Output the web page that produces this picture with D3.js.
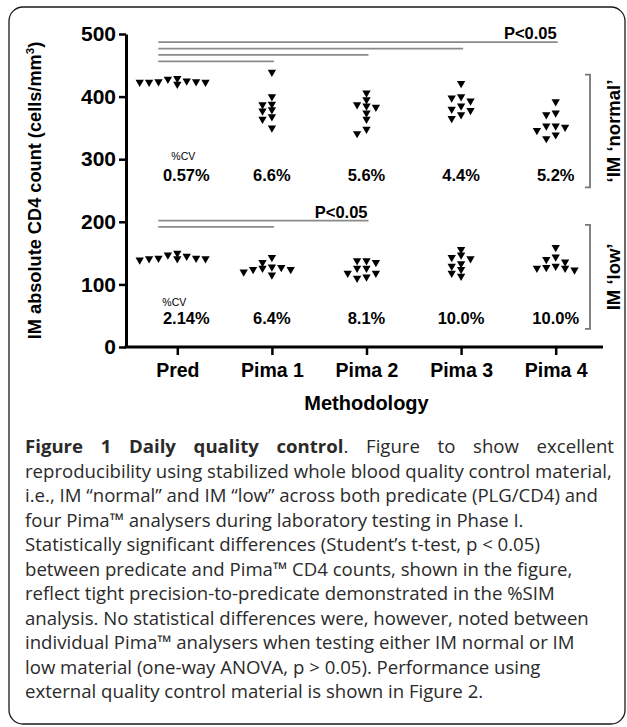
<!DOCTYPE html>
<html><head><meta charset="utf-8">
<script src="https://cdn.jsdelivr.net/npm/d3@7"></script>
<style>body{margin:0;background:#fff}svg{display:block}</style>
</head><body>
<script>
// ---------- data ----------
const categories = ["Pred", "Pima 1", "Pima 2", "Pima 3", "Pima 4"];
const normalPred  = [424, 423, 424, 428, 420, 429, 423, 423, 425];
const normalPima1 = [439, 400, 387, 388, 379, 377, 368, 364, 350];
const normalPima2 = [406, 387, 383, 385, 395, 374, 364, 348, 341];
const normalPima3 = [421, 398, 393, 400, 385, 380, 371, 365, 378];
const normalPima4 = [392, 374, 371, 353, 351, 353, 346, 339, 333];
const lowPred  = [145, 141, 142, 150, 139, 147, 141, 141, 142];
const lowPima1 = [128, 126, 124, 143, 135, 115, 120, 124, 127];
const lowPima2 = [126, 118, 110, 138, 135, 138, 112, 118, 126];
const lowPima3 = [156, 147, 143, 141, 133, 129, 124, 118, 113];
const lowPima4 = [159, 140, 136, 144, 129, 126, 123, 126, 127];
const cvNormal = ["0.57%", "6.6%", "5.6%", "4.4%", "5.2%"];
const cvLow    = ["2.14%", "6.4%", "8.1%", "10.0%", "10.0%"];
const yTicks = [0, 100, 200, 300, 400, 500];
const normalSigTargets = ["Pima 4", "Pima 3", "Pima 2", "Pima 1"];
const lowSigTargets = ["Pima 2", "Pima 1"];
const pLabel = "P<0.05";
const groupLabels = ["\u2018IM \u2018normal\u2019", "IM \u2018low\u2019"];
const groupRanges = [[255, 435], [29, 195]];
const yTitle = "IM absolute CD4 count (cells/mm";
const xTitle = "Methodology";
const captionBold = "Figure 1 Daily quality control";
const captionFirstRest = ". Figure to show excellent";
const captionLines = [
  "reproducibility using stabilized whole blood quality control material,",
  "i.e., IM \u201cnormal\u201d and IM \u201clow\u201d across both predicate (PLG/CD4) and",
  "four Pima\u2122 analysers during laboratory testing in Phase I.",
  "Statistically significant differences (Student\u2019s t-test, p < 0.05)",
  "between predicate and Pima\u2122 CD4 counts, shown in the figure,",
  "reflect tight precision-to-predicate demonstrated in the %SIM",
  "analysis. No statistical differences were, however, noted between",
  "individual Pima\u2122 analysers when testing either IM normal or IM",
  "low material (one-way ANOVA, p > 0.05). Performance using",
  "external quality control material is shown in Figure 2."
];

const normalSeries = [normalPred, normalPima1, normalPima2, normalPima3, normalPima4];
const lowSeries = [lowPred, lowPima1, lowPima2, lowPima3, lowPima4];

// ---------- setup ----------
const W = 627, H = 727;
const F = "'Liberation Sans', Arial, sans-serif";
const svg = d3.select("body").append("svg").attr("width", W).attr("height", H);

svg.append("rect").attr("x", 9).attr("y", 7).attr("width", 616).attr("height", 717)
  .attr("rx", 14).attr("fill", "none").attr("stroke", "#1a1a1a").attr("stroke-width", 1.3);

const x = d3.scalePoint().domain(categories).range([130, 603]).padding(0.5);
const y = d3.scaleLinear().domain([0, 500]).range([347, 34]);
const axisX = 126;

// y axis
const gy = svg.append("g").attr("transform", `translate(${axisX},0)`)
  .call(d3.axisLeft(y).tickValues(yTicks).tickSize(7).tickSizeOuter(0).tickPadding(3));
gy.attr("font-size", null).attr("font-family", null);
gy.select(".domain").attr("stroke", "#000").attr("stroke-width", 3);
gy.selectAll(".tick line").attr("stroke", "#000").attr("stroke-width", 2.5);
gy.selectAll(".tick text").attr("font-family", F).attr("font-size", 21).attr("font-weight", "bold").attr("fill", "#000");

// x axis
const gx = svg.append("g").attr("transform", `translate(0,${y(0)})`)
  .call(d3.axisBottom(x).tickSize(8).tickPadding(8).tickSizeOuter(0));
gx.attr("font-size", null).attr("font-family", null);
gx.select(".domain").remove();
gx.selectAll(".tick line").attr("stroke", "#000").attr("stroke-width", 2.5);
gx.selectAll(".tick text").attr("font-family", F).attr("font-size", 19.5).attr("font-weight", "bold").attr("fill", "#000");
svg.append("line").attr("x1", axisX - 1.5).attr("x2", 603).attr("y1", y(0)).attr("y2", y(0))
  .attr("stroke", "#000").attr("stroke-width", 3);

// titles
svg.append("text").attr("x", x(categories[2])).attr("y", 410).attr("text-anchor", "middle")
  .attr("font-family", F).attr("font-size", 20).attr("font-weight", "bold").text(xTitle);
const yt = svg.append("text").attr("transform", `translate(41,${(y(0) + y(500)) / 2}) rotate(-90)`)
  .attr("text-anchor", "middle").attr("font-family", F).attr("font-size", 18.2).attr("font-weight", "bold");
yt.append("tspan").text(yTitle);
yt.append("tspan").attr("dy", -7).attr("font-size", 11.5).text("3");
yt.append("tspan").attr("dy", 7).text(")");

// ---------- points (beeswarm) ----------
function swarm(values, cx) {
  const step = 4.7, wC = 9, hC = 5.5;
  const placed = [];
  values.map(v => ({ v, py: y(v) })).sort((a, b) => b.v - a.v).forEach(p => {
    for (let k = 0; k < 60; k++) {
      const off = k === 0 ? 0 : (k % 2 === 1 ? -1 : 1) * Math.ceil(k / 2) * step;
      const px = cx + off;
      if (!placed.some(q => Math.abs(q.px - px) < wC && Math.abs(q.py - p.py) < hC)) {
        p.px = px; placed.push(p); break;
      }
    }
  });
  return placed;
}
const tri = d3.symbol().type(d3.symbolTriangle).size(30)();
[normalSeries, lowSeries].forEach(series => {
  series.forEach((vals, i) => {
    const pts = swarm(vals, x(categories[i]));
    svg.append("g").selectAll("path").data(pts).join("path")
      .attr("d", tri).attr("fill", "#000")
      .attr("transform", d => `translate(${d.px},${d.py}) rotate(180)`);
  });
});

// ---------- significance lines ----------
function sigLines(targets, baseVal) {
  const x0 = x(categories[0]) - 19;
  const y0 = y(baseVal);
  let maxEnd = 0;
  targets.forEach((t, i) => {
    const x1 = x(t) + 2;
    maxEnd = Math.max(maxEnd, x1);
    svg.append("line").attr("x1", x0).attr("x2", x1).attr("y1", y0 + i * 6.4).attr("y2", y0 + i * 6.4)
      .attr("stroke", "#8a8a8a").attr("stroke-width", 1.8);
  });
  svg.append("text").attr("x", maxEnd - 1).attr("y", y0 - 2.7).attr("text-anchor", "end")
    .attr("font-family", F).attr("font-size", 16.5).attr("font-weight", "bold").text(pLabel);
}
sigLines(normalSigTargets, 487);
sigLines(lowSigTargets, 202);

// ---------- CV labels ----------
function cvLabels(vals, labelVal, cvVal, cvX) {
  svg.append("text").attr("x", cvX).attr("y", y(labelVal)).attr("font-family", F)
    .attr("font-size", 10.5).text("%CV");
  vals.forEach((t, i) => {
    svg.append("text").attr("x", x(categories[i]) + (i === 0 ? 9 : 0)).attr("y", y(cvVal))
      .attr("text-anchor", "middle").attr("font-family", F).attr("font-size", 16.5)
      .attr("font-weight", "bold").text(t);
  });
}
cvLabels(cvNormal, 299, 265, x(categories[0]) - 6);
cvLabels(cvLow, 65.5, 37, x(categories[0]) - 15);

// ---------- group brackets ----------
groupRanges.forEach((r, i) => {
  const yTop = y(r[1]), yBot = y(r[0]);
  svg.append("path").attr("d", `M585,${yTop}H590V${yBot}H585`).attr("fill", "none")
    .attr("stroke", "#777").attr("stroke-width", 1.8);
  svg.append("text").attr("transform", `translate(620,${(yTop + yBot) / 2}) rotate(-90)`)
    .attr("text-anchor", "middle").attr("font-family", F).attr("font-size", 18.5)
    .attr("font-weight", "bold").text(groupLabels[i]);
});

// ---------- caption ----------
const CF = "'Open Sans', sans-serif", lx = 25, lh = 24.5, by = 453;
// size the caption font so the longest line spans the same width as in the figure
const probe = svg.append("text").attr("font-family", CF).attr("font-size", 20).text(captionLines[0]);
const CS = 20 * (612 - lx) / probe.node().getComputedTextLength();
probe.remove();
const l1 = svg.append("text").attr("x", lx).attr("y", by).attr("font-family", CF).attr("font-size", CS).attr("fill", "#2a2a2a");
l1.append("tspan").attr("font-weight", "bold").text(captionBold);
l1.append("tspan").text(captionFirstRest);
const nat = l1.node().getComputedTextLength();
const spaces = (captionBold + captionFirstRest).split(" ").length - 1;
l1.attr("word-spacing", Math.max(0, (614 - lx - nat) / spaces));
captionLines.forEach((t, i) => {
  svg.append("text").attr("x", lx).attr("y", by + (i + 1) * lh).attr("font-family", CF)
    .attr("font-size", CS).attr("fill", "#2a2a2a").text(t);
});
</script>
</body></html>
